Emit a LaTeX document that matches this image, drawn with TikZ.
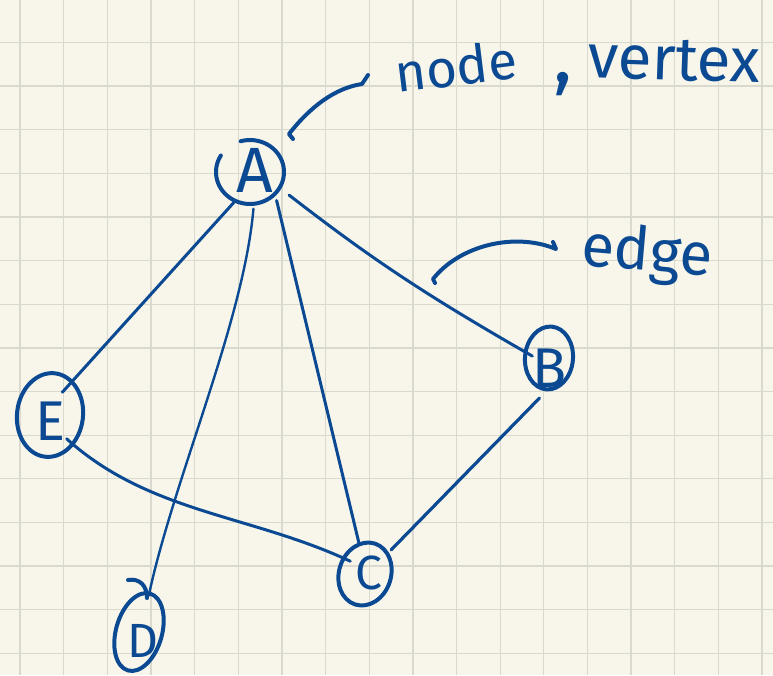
\documentclass[tikz,border=0pt]{standalone}
\usepackage{fontspec}
\setmainfont{Fira Sans}
\usepackage{graphicx}
\usetikzlibrary{shapes.geometric}
\definecolor{ink}{HTML}{0B4A92}
\definecolor{paper}{HTML}{F8F6EB}
\definecolor{gridc}{HTML}{DAD9CD}
\newcommand{\vlet}[4]{\makebox[0pt]{\hspace*{#1}\raisebox{#2}[0pt][0pt]{\fontsize{#3}{#3}\selectfont #4}}}
\begin{document}
\begin{tikzpicture}[x=1pt,y=1pt,
  vtx/.style={ellipse, inner sep=0pt, outer sep=0pt, text=ink},
  ring/.style={draw=ink, line width=4pt, line cap=round, line join=round},
  link/.style={draw=ink, line width=3pt, line cap=round},
  pointer/.style={draw=ink, line width=4pt, line cap=round, line join=round},
  note/.style={text=ink, inner sep=0pt, anchor=base west}]
\fill[paper] (0,0) rectangle (773,-675);
\useasboundingbox (0,0) rectangle (773,-675);
\foreach \k in {0,...,17}{\draw[gridc,line width=1.3pt] ({20+43.65*\k},0) -- ({20+43.65*\k},-675);}
\foreach \k in {0,...,14}{\draw[gridc,line width=1.3pt] (0,{-42.3-43.65*\k}) -- (773,{-42.3-43.65*\k});}

% vertices
\node[vtx, minimum width=68, minimum height=64] (A) at (250,-172) {\vlet{10pt}{-20pt}{64}{A}};
\node[vtx, minimum width=66, minimum height=84] (E) at (50,-415) {\vlet{0pt}{-25.3pt}{56}{E}};
\node[vtx, minimum width=46, minimum height=80] (D) at (139,-632) {\vlet{8pt}{-25.5pt}{48}{D}};
\node[vtx, minimum width=54, minimum height=62] (C) at (365,-574) {\vlet{8pt}{-15.5pt}{48}{C}};
\node[vtx, minimum width=48, minimum height=63] (B) at (549,-358) {\vlet{2pt}{-29.3pt}{56}{B}};

% rings
\draw[ring] ([shift={(149:34 and 32)}]A.center) arc[start angle=149, end angle=466, x radius=34, y radius=32];
\draw[ring, rotate around={-7:(E.center)}] (E.center) ellipse[x radius=33, y radius=42];
\draw[ring, rotate around={-16:(D.center)}] (D.center) ellipse[x radius=23, y radius=40];
\draw[ring] ([shift={(-11,52)}]D.center) .. controls ([shift={(1,54)}]D.center) and ([shift={(8,46)}]D.center) .. ([shift={(8,34)}]D.center);
\draw[ring, rotate around={-18:(C.center)}] (C.center) ellipse[x radius=26, y radius=32];
\draw[ring, rotate around={-5:(B.center)}] (B.center) ellipse[x radius=24, y radius=31.5];

% edges
\draw[link, shorten >=-13pt] (A.243) -- (E.57);
\draw[link, line width=2.4pt, shorten <=5pt] (A.277) to[out=265, in=78, looseness=0.75] (D.75);
\draw[link, shorten <=7pt] (A.319) -- (C.101);
\draw[link, shorten <=12pt, shorten >=-8pt] (A.332) to[bend right=4] (B.166);
\draw[link, line width=3.2pt, shorten <=12pt, shorten >=7pt] (B.268) -- (C.42);
\draw[link, shorten <=-9pt, shorten >=-9pt] (E.308) to[out=-42, in=155, looseness=0.9] (C.144);

% annotations
\node[note, rotate=7] (tnode) at (397,-93) {\fontsize{53}{53}\selectfont node};
\node[note] (tcomma) at (553,-82) {\fontsize{80}{80}\selectfont ,};
\node[note, rotate=-2] (tvertex) at (587,-77) {\fontsize{62}{62}\selectfont vertex};
\node[note, rotate=-5] (tedge) at (580,-265) {\fontsize{60}{60}\selectfont edge};

\coordinate (n0) at (293,-139);
\coordinate (n1) at (289,-134);
\coordinate (n2) at (362,-84);
\coordinate (n3) at (368,-75);
\draw[pointer] (n0) -- (n1) .. controls (310,-107) and (335,-88) .. (n2) -- (n3);

\coordinate (e0) at (435,-283);
\coordinate (e1) at (433,-279);
\coordinate (e2) at (556,-249);
\coordinate (e3) at (553,-242);
\draw[pointer] (e0) -- (e1) .. controls (460,-245) and (515,-232) .. (e2) -- (e3);
\end{tikzpicture}
\end{document}
